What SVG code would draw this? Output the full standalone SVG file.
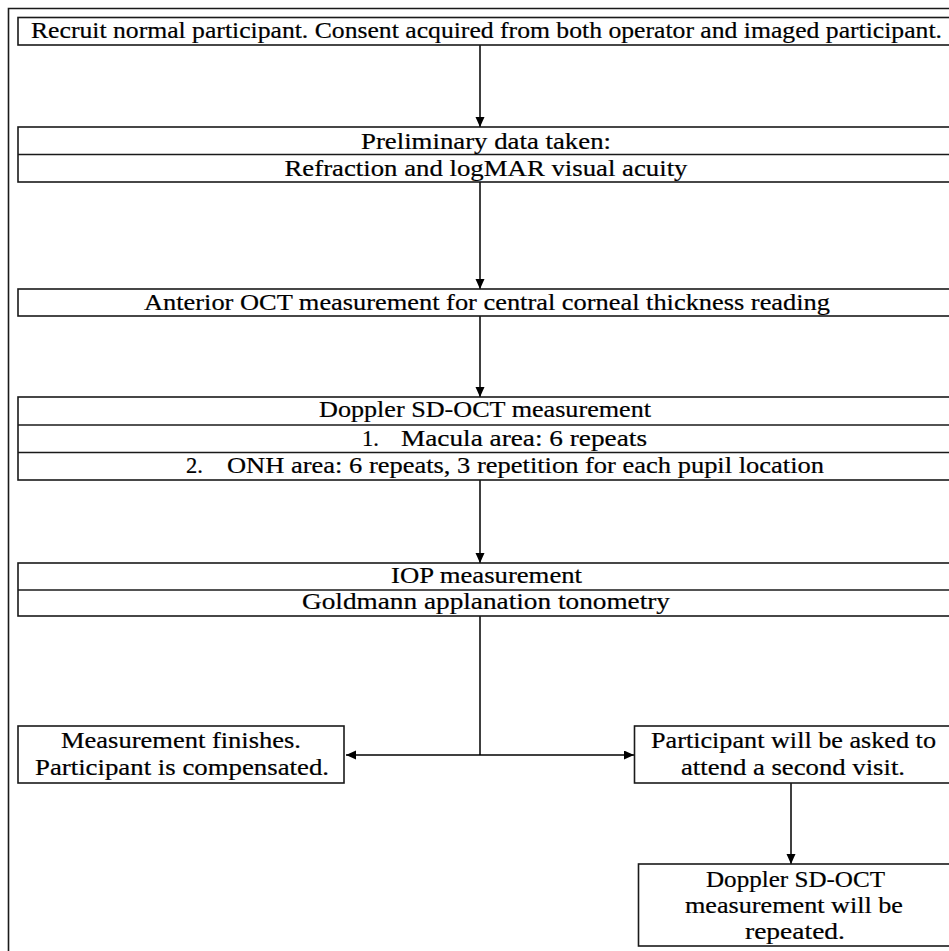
<svg xmlns="http://www.w3.org/2000/svg" width="949" height="951" viewBox="0 0 949 951">
<style>
.bx{fill:#fff;stroke:#1a1a1a;stroke-width:1.6}
.dv{stroke:#1a1a1a;stroke-width:1.6}
.t{font-family:"Liberation Serif","Times New Roman",serif;font-size:22.5px;fill:#000;stroke:#000;stroke-width:0.2}
.c{text-anchor:middle}
.ln{fill:none;stroke:#000;stroke-width:1.5}
</style>
<defs>
<marker id="ah" markerUnits="userSpaceOnUse" markerWidth="11" markerHeight="10" refX="10" refY="4.5" orient="auto">
<path d="M0,0 L10,4.5 L0,9 z" fill="#000"/>
</marker>
</defs>
<rect width="949" height="951" fill="#fff"/>
<path d="M8.5,951 L8.5,8.5 L949,8.5" fill="none" stroke="#1a1a1a" stroke-width="1.6"/>

<g id="connectors">
<line class="ln" x1="480" y1="45" x2="480" y2="127" marker-end="url(#ah)"/>
<line class="ln" x1="480" y1="182" x2="480" y2="289" marker-end="url(#ah)"/>
<line class="ln" x1="480" y1="316" x2="480" y2="397" marker-end="url(#ah)"/>
<line class="ln" x1="480" y1="480" x2="480" y2="563" marker-end="url(#ah)"/>
<line class="ln" x1="480" y1="616" x2="480" y2="755"/>
<line class="ln" x1="480" y1="755" x2="346" y2="755" marker-end="url(#ah)"/>
<line class="ln" x1="480" y1="755" x2="634" y2="755" marker-end="url(#ah)"/>
<line class="ln" x1="791" y1="783" x2="791" y2="864" marker-end="url(#ah)"/>
</g>

<g id="recruit">
<rect class="bx" x="18" y="17.5" width="940" height="27.5"/>
<text class="t c" x="486.5" y="38" textLength="911" lengthAdjust="spacingAndGlyphs">Recruit normal participant. Consent acquired from both operator and imaged participant.</text>
</g>

<g id="preliminary">
<rect class="bx" x="18" y="127" width="940" height="55"/>
<line class="dv" x1="18" y1="154.5" x2="958" y2="154.5"/>
<text class="t c" x="486" y="149" textLength="250" lengthAdjust="spacingAndGlyphs">Preliminary data taken:</text>
<text class="t c" x="486" y="176" textLength="403" lengthAdjust="spacingAndGlyphs">Refraction and logMAR visual acuity</text>
</g>

<g id="anterior">
<rect class="bx" x="18" y="289" width="940" height="27"/>
<text class="t c" x="487" y="310" textLength="686" lengthAdjust="spacingAndGlyphs">Anterior OCT measurement for central corneal thickness reading</text>
</g>

<g id="doppler">
<rect class="bx" x="18" y="397" width="940" height="83"/>
<line class="dv" x1="18" y1="425" x2="958" y2="425"/>
<line class="dv" x1="18" y1="452.5" x2="958" y2="452.5"/>
<text class="t c" x="485" y="417" textLength="332" lengthAdjust="spacingAndGlyphs">Doppler SD-OCT measurement</text>
<text class="t" x="362" y="446">1.</text>
<text class="t" x="401" y="446" textLength="246" lengthAdjust="spacingAndGlyphs">Macula area: 6 repeats</text>
<text class="t" x="186" y="473">2.</text>
<text class="t" x="227" y="473" textLength="597" lengthAdjust="spacingAndGlyphs">ONH area: 6 repeats, 3 repetition for each pupil location</text>
</g>

<g id="iop">
<rect class="bx" x="18" y="563" width="940" height="53"/>
<line class="dv" x1="18" y1="590" x2="958" y2="590"/>
<text class="t c" x="486.5" y="583" textLength="191" lengthAdjust="spacingAndGlyphs">IOP measurement</text>
<text class="t c" x="486" y="609" textLength="368" lengthAdjust="spacingAndGlyphs">Goldmann applanation tonometry</text>
</g>

<g id="finish">
<rect class="bx" x="18" y="726" width="326" height="57"/>
<text class="t c" x="181" y="748" textLength="240" lengthAdjust="spacingAndGlyphs">Measurement finishes.</text>
<text class="t c" x="182" y="775" textLength="294" lengthAdjust="spacingAndGlyphs">Participant is compensated.</text>
</g>

<g id="second-visit">
<rect class="bx" x="634.5" y="726" width="320" height="57"/>
<text class="t c" x="793.5" y="748" textLength="285" lengthAdjust="spacingAndGlyphs">Participant will be asked to</text>
<text class="t c" x="793" y="775" textLength="224" lengthAdjust="spacingAndGlyphs">attend a second visit.</text>
</g>

<g id="repeat">
<rect class="bx" x="638.5" y="864" width="320" height="82"/>
<text class="t c" x="795.5" y="887" textLength="179" lengthAdjust="spacingAndGlyphs">Doppler SD-OCT</text>
<text class="t c" x="794" y="913" textLength="218" lengthAdjust="spacingAndGlyphs">measurement will be</text>
<text class="t c" x="795" y="939" textLength="100" lengthAdjust="spacingAndGlyphs">repeated.</text>
</g>
</svg>
